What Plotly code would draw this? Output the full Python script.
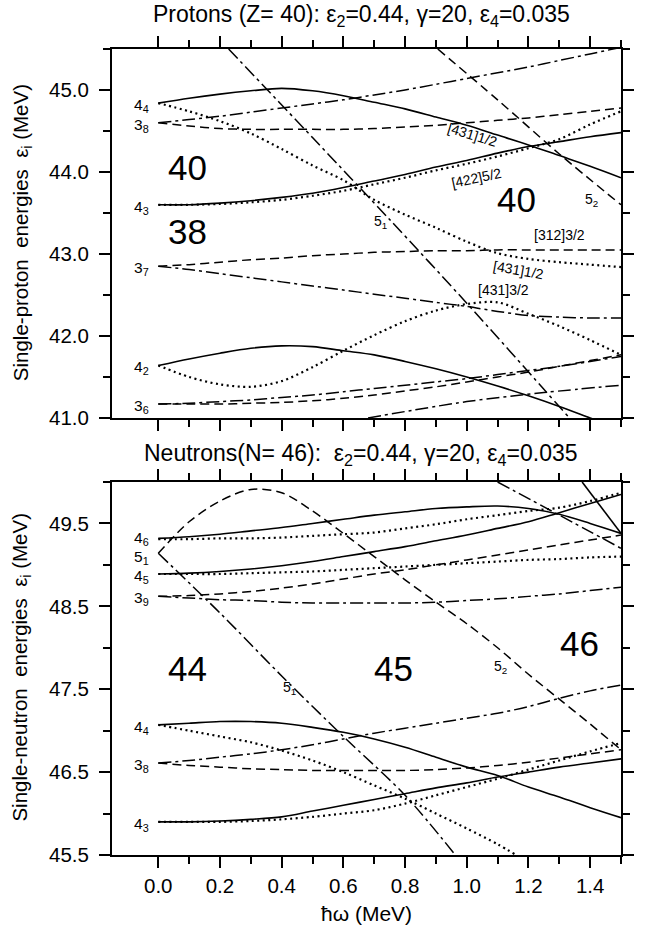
import plotly.graph_objects as go

# ---------------- data ----------------
W = [0.0, 0.1, 0.2, 0.3, 0.4, 0.5, 0.6, 0.7, 0.8, 0.9, 1.0, 1.1, 1.2, 1.3, 1.4, 1.5]

# Protons (Z=40)
P_44_solid = [44.84, 44.90, 44.95, 44.99, 45.02, 44.99, 44.93, 44.85, 44.77, 44.67, 44.57, 44.45, 44.33, 44.20, 44.07, 43.93]
P_44_dot   = [44.84, 44.74, 44.62, 44.47, 44.28, 44.08, 43.90, 43.66, 43.48, 43.32, 43.15, 43.01, 42.94, 42.90, 42.87, 42.84]
P_38_dash  = [44.60, 44.56, 44.53, 44.52, 44.52, 44.52, 44.52, 44.53, 44.55, 44.57, 44.60, 44.63, 44.66, 44.70, 44.74, 44.78]
P_38_dd    = [44.60, 44.64, 44.68, 44.73, 44.78, 44.83, 44.88, 44.94, 45.00, 45.07, 45.14, 45.21, 45.28, 45.36, 45.44, 45.52]
P_43_solid = [43.60, 43.60, 43.62, 43.65, 43.69, 43.74, 43.81, 43.89, 43.97, 44.06, 44.14, 44.23, 44.31, 44.37, 44.43, 44.48]
P_43_dot   = [43.60, 43.60, 43.61, 43.63, 43.66, 43.71, 43.77, 43.85, 43.93, 44.02, 44.10, 44.19, 44.29, 44.40, 44.58, 44.74]
P_37_dash  = [42.85, 42.87, 42.90, 42.93, 42.95, 42.98, 43.00, 43.02, 43.03, 43.04, 43.04, 43.05, 43.05, 43.05, 43.05, 43.05]
P_37_dd    = [42.85, 42.81, 42.76, 42.71, 42.66, 42.61, 42.56, 42.51, 42.46, 42.41, 42.36, 42.30, 42.25, 42.23, 42.22, 42.22]
P_42_solid = [41.64, 41.72, 41.79, 41.85, 41.88, 41.87, 41.82, 41.77, 41.69, 41.60, 41.50, 41.39, 41.27, 41.14, 41.00, 40.86]
P_42_dot   = [41.64, 41.50, 41.41, 41.38, 41.45, 41.62, 41.82, 42.01, 42.18, 42.31, 42.39, 42.41, 42.27, 42.12, 41.95, 41.77]
P_36_dd    = [41.17, 41.18, 41.20, 41.22, 41.25, 41.28, 41.32, 41.36, 41.40, 41.44, 41.48, 41.53, 41.58, 41.63, 41.69, 41.75]
P_36_dash  = [41.17, 41.17, 41.17, 41.18, 41.19, 41.21, 41.24, 41.28, 41.33, 41.38, 41.44, 41.50, 41.56, 41.63, 41.70, 41.77]
P_51_w = [0.228, 0.50, 0.75, 1.00, 1.25, 1.333]
P_51_e = [45.50, 44.42, 43.42, 42.40, 41.35, 41.00]
P_52_w = [0.906, 1.10, 1.30, 1.50]
P_52_e = [45.50, 44.88, 44.22, 43.60]
P_low_w = [0.68, 1.00, 1.25, 1.50]
P_low_e = [41.00, 41.20, 41.31, 41.40]

# Neutrons (N=46)
N_46_solid = [49.32, 49.34, 49.37, 49.41, 49.45, 49.50, 49.55, 49.60, 49.64, 49.68, 49.70, 49.71, 49.68, 49.61, 49.50, 49.38]
N_46_dot   = [49.31, 49.31, 49.32, 49.32, 49.33, 49.35, 49.37, 49.39, 49.44, 49.49, 49.55, 49.60, 49.65, 49.69, 49.77, 49.87]
N_45_solid = [48.89, 48.90, 48.92, 48.95, 48.99, 49.04, 49.10, 49.16, 49.22, 49.29, 49.36, 49.44, 49.52, 49.63, 49.74, 49.85]
N_45_dot   = [48.89, 48.89, 48.89, 48.90, 48.91, 48.92, 48.94, 48.96, 48.98, 49.00, 49.02, 49.04, 49.06, 49.07, 49.09, 49.10]
N_39_dash  = [48.62, 48.63, 48.65, 48.68, 48.72, 48.77, 48.83, 48.89, 48.94, 49.00, 49.06, 49.12, 49.18, 49.24, 49.30, 49.36]
N_39_dd    = [48.62, 48.60, 48.58, 48.57, 48.55, 48.54, 48.54, 48.54, 48.54, 48.55, 48.57, 48.59, 48.62, 48.65, 48.69, 48.73]
N_51_dash  = [49.14, 49.52, 49.77, 49.91, 49.87, 49.65, 49.38, 49.10, 48.82, 48.55, 48.29, 48.00, 47.68, 47.38, 47.08, 46.77]
N_44_solid = [47.07, 47.09, 47.11, 47.11, 47.09, 47.04, 46.98, 46.90, 46.80, 46.68, 46.56, 46.46, 46.32, 46.20, 46.07, 45.95]
N_38_dd    = [46.61, 46.64, 46.68, 46.72, 46.77, 46.83, 46.90, 46.97, 47.03, 47.09, 47.15, 47.21, 47.29, 47.39, 47.48, 47.55]
N_38_dash  = [46.61, 46.58, 46.56, 46.54, 46.53, 46.52, 46.52, 46.52, 46.52, 46.53, 46.55, 46.58, 46.62, 46.67, 46.72, 46.77]
N_43_solid = [45.90, 45.90, 45.91, 45.93, 45.96, 46.03, 46.10, 46.17, 46.24, 46.31, 46.37, 46.44, 46.50, 46.56, 46.61, 46.66]
N_43_dot   = [45.90, 45.90, 45.90, 45.91, 45.93, 45.96, 46.00, 46.04, 46.12, 46.22, 46.32, 46.42, 46.53, 46.64, 46.75, 46.85]
N_44_dot_w = [0.0, 0.1, 0.2, 0.3, 0.4, 0.5, 0.6, 0.7, 0.8, 0.9, 1.0, 1.1, 1.16]
N_44_dot_e = [47.07, 47.00, 46.93, 46.86, 46.76, 46.64, 46.50, 46.34, 46.18, 46.00, 45.82, 45.63, 45.50]
N_51_dd_w = [0.0, 0.2, 0.4, 0.6, 0.8, 0.963]
N_51_dd_e = [49.14, 48.42, 47.66, 46.93, 46.22, 45.50]
N_steep_dd_w = [1.10, 1.30, 1.50]
N_steep_dd_e = [50.00, 49.60, 49.20]
N_steep_solid_w = [1.374, 1.50]
N_steep_solid_e = [50.00, 49.38]

X_TICKS = [0.0, 0.2, 0.4, 0.6, 0.8, 1.0, 1.2, 1.4]
X_MINOR = [0.1, 0.3, 0.5, 0.7, 0.9, 1.1, 1.3, 1.5]
P_YTICKS = [41.0, 42.0, 43.0, 44.0, 45.0]
P_YMINOR = [41.5, 42.5, 43.5, 44.5, 45.5]
N_YTICKS = [45.5, 46.5, 47.5, 48.5, 49.5]
N_YMINOR = [46.0, 47.0, 48.0, 49.0, 50.0]

P_LEVEL_LABELS = [("4<sub>4</sub>", 44.84), ("3<sub>8</sub>", 44.60), ("4<sub>3</sub>", 43.60),
                  ("3<sub>7</sub>", 42.85), ("4<sub>2</sub>", 41.64), ("3<sub>6</sub>", 41.17)]
N_LEVEL_LABELS = [("4<sub>6</sub>", 49.35), ("5<sub>1</sub>", 49.12), ("4<sub>5</sub>", 48.89),
                  ("3<sub>9</sub>", 48.62), ("4<sub>4</sub>", 47.07), ("3<sub>8</sub>", 46.61),
                  ("4<sub>3</sub>", 45.90)]
P_GAPS = [("40", 0.094, 44.05), ("38", 0.094, 43.27), ("40", 1.16, 43.66)]
N_GAPS = [("44", 0.094, 47.75), ("45", 0.763, 47.75), ("46", 1.364, 48.05)]
P_ORBIT_LABELS = [("5<sub>1</sub>", 0.72, 43.39, 0), ("5<sub>2</sub>", 1.405, 43.66, 0),
                  ("[431]1/2", 1.02, 44.45, 17), ("[422]5/2", 1.03, 43.93, -12),
                  ("[312]3/2", 1.30, 43.23, 0), ("[431]1/2", 1.167, 42.80, 10),
                  ("[431]3/2", 1.12, 42.56, 0)]
N_ORBIT_LABELS = [("5<sub>1</sub>", 0.425, 47.51, 0), ("5<sub>2</sub>", 1.11, 47.77, 0)]

# ---------------- styles ----------------
FONT = "Liberation Sans, Arial, sans-serif"
STY = {
    "solid": dict(color="black", width=1.6),
    "dot": dict(color="black", width=2.2, dash="2px,3.5px"),
    "dash": dict(color="black", width=1.5, dash="9px,5px"),
    "dd": dict(color="black", width=1.5, dash="13px,4px,3px,4px"),
}

fig = go.Figure()

def add(x, y, sty, panel):
    xa, ya = ("x", "y") if panel == 1 else ("x2", "y2")
    fig.add_trace(go.Scatter(x=x, y=y, mode="lines", line=dict(**STY[sty], shape="spline", smoothing=0.9),
                             xaxis=xa, yaxis=ya, showlegend=False, hoverinfo="skip"))

# protons
add(W, P_44_solid, "solid", 1)
add(W, P_44_dot, "dot", 1)
add(W, P_38_dash, "dash", 1)
add(W, P_38_dd, "dd", 1)
add(W, P_43_solid, "solid", 1)
add(W, P_43_dot, "dot", 1)
add(W, P_37_dash, "dash", 1)
add(W, P_37_dd, "dd", 1)
add(W, P_42_solid, "solid", 1)
add(W, P_42_dot, "dot", 1)
add(W, P_36_dd, "dd", 1)
add(W, P_36_dash, "dash", 1)
add(P_51_w, P_51_e, "dd", 1)
add(P_52_w, P_52_e, "dash", 1)
add(P_low_w, P_low_e, "dd", 1)
# neutrons
add(W, N_46_solid, "solid", 2)
add(W, N_46_dot, "dot", 2)
add(W, N_45_solid, "solid", 2)
add(W, N_45_dot, "dot", 2)
add(W, N_39_dash, "dash", 2)
add(W, N_39_dd, "dd", 2)
add(W, N_51_dash, "dash", 2)
add(N_51_dd_w, N_51_dd_e, "dd", 2)
add(W, N_44_solid, "solid", 2)
add(N_44_dot_w, N_44_dot_e, "dot", 2)
add(W, N_38_dd, "dd", 2)
add(W, N_38_dash, "dash", 2)
add(W, N_43_solid, "solid", 2)
add(W, N_43_dot, "dot", 2)
add(N_steep_dd_w, N_steep_dd_e, "dd", 2)
add(N_steep_solid_w, N_steep_solid_e, "solid", 2)

ann = []
def label(text, x, y, panel, size, xanchor="center", angle=0):
    xr, yr = ("x", "y") if panel == 1 else ("x2", "y2")
    ann.append(dict(text=text, x=x, y=y, xref=xr, yref=yr, showarrow=False, xanchor=xanchor,
                    yanchor="middle", textangle=angle, font=dict(size=size, family=FONT, color="black")))

for t, e in P_LEVEL_LABELS:
    label(t, -0.025, e - 0.03, 1, 15.5, "right")
for t, e in N_LEVEL_LABELS:
    label(t, -0.025, e - 0.03, 2, 15.5, "right")
for t, w, e in P_GAPS:
    label(t, w, e, 1, 35)
for t, w, e in N_GAPS:
    label(t, w, e, 2, 35)
for t, w, e, a in P_ORBIT_LABELS:
    label(t, w, e, 1, 14, angle=a)
for t, w, e, a in N_ORBIT_LABELS:
    label(t, w, e, 2, 14, angle=a)

def paper(text, x, y, size, angle=0):
    ann.append(dict(text=text, x=x, y=y, xref="paper", yref="paper", showarrow=False, xanchor="center",
                    yanchor="middle", textangle=angle, font=dict(size=size, family=FONT, color="black")))

NB = "\u00a0"
paper("Protons (Z= 40): ε<sub>2</sub>=0.44, γ=20, ε<sub>4</sub>=0.035", 0.49, 1.042, 23)
paper("Neutrons(N= 46):" + NB + NB + "ε<sub>2</sub>=0.44, γ=20, ε<sub>4</sub>=0.035", 0.49, 0.4975, 23)
paper("Single-proton" + NB + NB + "energies" + NB + NB + "ε<sub>i</sub> (MeV)", -0.178, 0.772, 20.5, -90)
paper("Single-neutron" + NB + NB + "energies" + NB + NB + "ε<sub>i</sub> (MeV)", -0.178, 0.233, 20.5, -90)
paper("ħω (MeV)", 0.5, -0.072, 21)

TICKFONT = dict(size=20.5, family=FONT, color="black")

def xax(domain_anchor, labels):
    return dict(range=[-0.15, 1.5], tickmode="array", tickvals=X_TICKS,
                ticktext=["%.1f" % v for v in X_TICKS], showticklabels=labels,
                ticks="outside", ticklen=11, tickwidth=1.5, tickcolor="black",
                showline=True, linewidth=2, linecolor="black", mirror="ticks",
                showgrid=False, zeroline=False, anchor=domain_anchor,
                tickfont=TICKFONT,
                minor=dict(tickmode="array", tickvals=X_MINOR, ticklen=7, tickwidth=1.5,
                           ticks="outside", tickcolor="black", showgrid=False))

def yax(rng, ticks, minor, domain, anchor):
    return dict(range=rng, domain=domain, tickmode="array", tickvals=ticks,
                ticktext=["%.1f" % v for v in ticks], ticks="outside", ticklen=11, tickwidth=1.5,
                tickcolor="black", showline=True, linewidth=2, linecolor="black", mirror="ticks",
                showgrid=False, zeroline=False, anchor=anchor, ticklabelstandoff=6,
                tickfont=TICKFONT,
                minor=dict(tickmode="array", tickvals=minor, ticklen=7, tickwidth=1.5,
                           ticks="outside", tickcolor="black", showgrid=False))

fig.update_layout(
    width=646, height=934,
    margin=dict(l=112, r=16, t=49, b=79),
    paper_bgcolor="white", plot_bgcolor="white",
    font=dict(family=FONT, color="black"),
    xaxis=xax("y", False),
    yaxis=yax([41.0, 45.5], P_YTICKS, P_YMINOR, [0.5422, 1.0], "x"),
    xaxis2=xax("y2", True),
    yaxis2=yax([45.5, 50.0], N_YTICKS, N_YMINOR, [0.0, 0.4628], "x2"),
    annotations=ann,
    showlegend=False,
)

fig.write_html("out.html")
